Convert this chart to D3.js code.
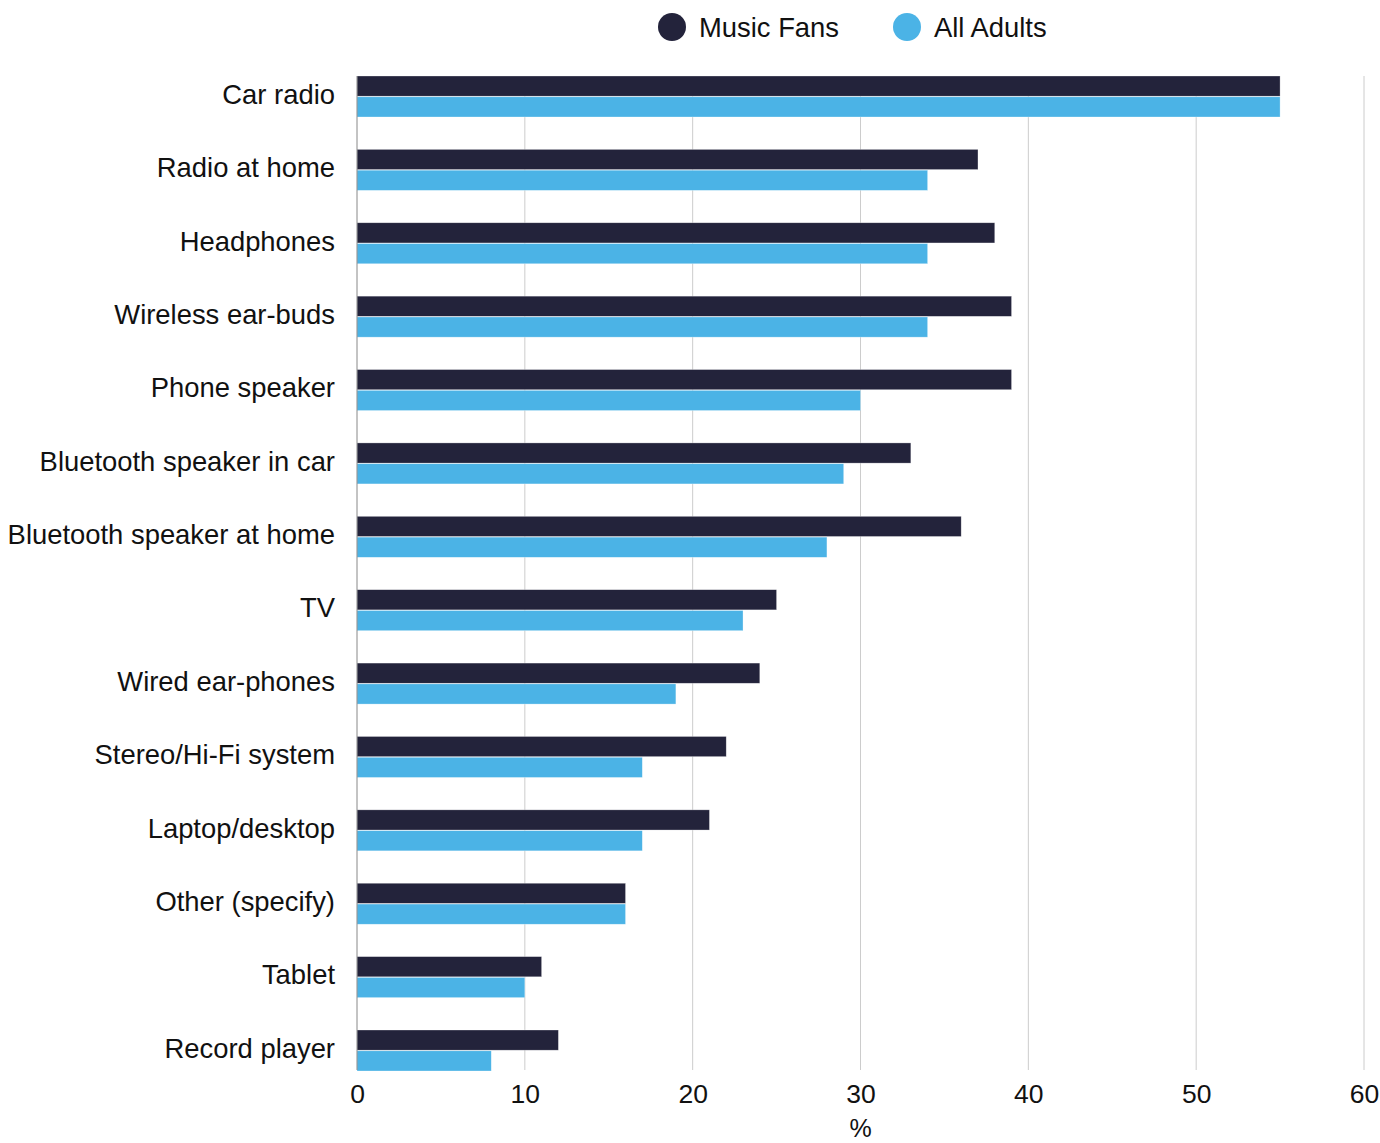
<!DOCTYPE html>
<html><head><meta charset="utf-8">
<script src="https://cdn.jsdelivr.net/npm/d3@7"></script>
<style>body{margin:0;background:#fff}svg{display:block;font-family:"Liberation Sans",Arial,sans-serif}</style>
</head><body><svg id="c" width="1380" height="1143"></svg>
<script>
const categories = ["Car radio","Radio at home","Headphones","Wireless ear-buds","Phone speaker","Bluetooth speaker in car","Bluetooth speaker at home","TV","Wired ear-phones","Stereo/Hi-Fi system","Laptop/desktop","Other (specify)","Tablet","Record player"];
const musicFans = [55,37,38,39,39,33,36,25,24,22,21,16,11,12];
const allAdults = [55,34,34,34,30,29,28,23,19,17,17,16,10,8];
const seriesNames = ["Music Fans","All Adults"];
const colors = ["#23233b","#4bb3e6"];
const xTicks = [0,10,20,30,40,50,60];

const svg = d3.select("#c");
const L = 357, R = 1364, T = 76, B = 1071;
const x = d3.scaleLinear().domain([0,60]).range([L,R]);
const y = d3.scaleBand().domain(categories).range([T,B]).paddingInner(0.4413).paddingOuter(0);
const sub = d3.scaleBand().domain(seriesNames).range([0,y.bandwidth()]).paddingInner(0.03);

// gridlines
svg.append("g").selectAll("line").data(xTicks.slice(1)).join("line")
  .attr("x1",d=>x(d)).attr("x2",d=>x(d)).attr("y1",T).attr("y2",B-1)
  .attr("stroke","#cccccc").attr("stroke-width",1);

const data = [musicFans, allAdults];
const g = svg.append("g");
categories.forEach((c,i)=>{
  seriesNames.forEach((s,j)=>{
    g.append("rect").attr("x",x(0)).attr("y",y(c)+sub(s))
      .attr("width",x(data[j][i])-x(0)).attr("height",sub.bandwidth())
      .attr("fill",colors[j]).attr("stroke","#ffffff").attr("stroke-opacity",0.5).attr("stroke-width",0.6);
  });
});

// y axis line
svg.append("line").attr("x1",L).attr("x2",L).attr("y1",T).attr("y2",B-1).attr("stroke","#888").attr("stroke-width",1);

// category labels
svg.append("g").selectAll("text").data(categories).join("text")
  .attr("x",335).attr("y",d=>y(d)+y.bandwidth()/2).attr("text-anchor","end")
  .attr("dominant-baseline","middle").attr("font-size",27.4).attr("fill","#111").text(d=>d);

// x tick labels
const xa = d3.axisBottom(x).tickValues(xTicks).tickSize(0).tickPadding(0);
const xg = svg.append("g").attr("transform",`translate(0,${B})`).call(xa);
xg.select(".domain").remove();
xg.selectAll("text").attr("font-size",26.5).attr("fill","#111").attr("font-family","Liberation Sans, Arial, sans-serif")
  .attr("dy",null).attr("y",32);

svg.append("text").attr("x",(L+R)/2).attr("y",1137).attr("text-anchor","middle").attr("font-size",25).attr("fill","#111").text("%");

// legend
const leg = [{x:672,name:seriesNames[0],c:colors[0]},{x:907,name:seriesNames[1],c:colors[1]}];
leg.forEach(d=>{
  svg.append("circle").attr("cx",d.x).attr("cy",27).attr("r",14).attr("fill",d.c);
  svg.append("text").attr("x",d.x+27).attr("y",37).attr("font-size",27.4).attr("fill","#111").text(d.name);
});
</script></body></html>
